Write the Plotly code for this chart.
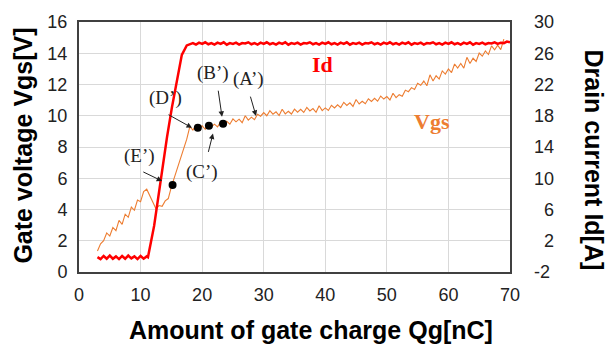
import plotly.graph_objects as go

# ---------------- data ----------------
vgs_qg = [3.0, 3.5, 4.0, 4.5, 5.0, 5.5, 6.0, 6.5, 7.0, 7.5, 8.0, 8.5, 9.0, 9.5, 10.0, 10.5,
          11.0, 11.5, 12.0, 12.5, 13.0, 13.5, 14.0, 14.5, 15.0, 15.5, 16.0, 16.5, 17.0, 17.5,
          18.0, 18.5, 19.0, 19.5, 20.0, 20.5, 21.0, 21.5, 22.0, 22.5, 23.0, 23.5, 24.0, 24.5,
          25.0, 25.5, 26.0, 26.5, 27.0, 27.5, 28.0, 28.5, 29.0, 29.5, 30.0, 30.5, 31.0, 31.5,
          32.0, 32.5, 33.0, 33.5, 34.0, 34.5, 35.0, 35.5, 36.0, 36.5, 37.0, 37.5, 38.0, 38.5,
          39.0, 39.5, 40.0, 40.5, 41.0, 41.5, 42.0, 42.5, 43.0, 43.5, 44.0, 44.5, 45.0, 45.5,
          46.0, 46.5, 47.0, 47.5, 48.0, 48.5, 49.0, 49.5, 50.0, 50.5, 51.0, 51.5, 52.0, 52.5,
          53.0, 53.5, 54.0, 54.5, 55.0, 55.5, 56.0, 56.5, 57.0, 57.5, 58.0, 58.5, 59.0, 59.5,
          60.0, 60.5, 61.0, 61.5, 62.0, 62.5, 63.0, 63.5, 64.0, 64.5, 65.0, 65.5, 66.0, 66.5,
          67.0, 67.5, 68.0, 68.5, 69.0]
vgs_v = [1.35, 1.8, 2.0, 2.5, 2.3, 2.85, 2.65, 3.3, 3.05, 3.7, 3.5, 4.15, 3.95, 4.6, 4.5, 5.15,
         5.3, 4.85, 4.5, 4.05, 4.25, 4.2, 4.55, 4.7, 5.45, 6.05, 6.7, 7.25, 7.9, 8.5,
         9.3, 9.08, 9.40, 9.19, 9.36, 9.13, 9.57, 9.28, 9.46, 9.29, 9.61, 9.44, 9.64, 9.46,
         9.80, 9.61, 9.78, 9.56, 10.0, 9.72, 9.91, 9.75, 10.10, 9.97, 10.2, 10.0, 10.32, 10.1,
         10.25, 10.01, 10.42, 10.12, 10.29, 10.11, 10.42, 10.23, 10.41, 10.21, 10.53, 10.31, 10.46, 10.22,
         10.64, 10.33, 10.5, 10.34, 10.67, 10.5, 10.7, 10.52, 10.86, 10.66, 10.83, 10.6, 11.04, 10.75,
         10.93, 10.77, 11.09, 10.92, 11.12, 10.93, 11.26, 11.07, 11.23, 11.01, 11.44, 11.16, 11.35, 11.25,
         11.64, 11.54, 11.8, 11.68, 12.08, 11.95, 12.22, 11.92, 12.62, 12.23, 12.56, 12.35, 12.87, 12.67,
         13.0, 12.76, 13.31, 13.05, 13.35, 13.05, 13.74, 13.35, 13.68, 13.48, 14.01, 13.81, 14.15, 13.92,
         14.47, 14.22, 14.52, 14.23, 14.9]

id_qg = [3.0, 3.5, 4.0, 4.5, 5.0, 5.5, 6.0, 6.5, 7.0, 7.5, 8.0, 8.5, 9.0, 9.5, 10.0, 10.5,
         11.0, 11.2, 12.2, 13.0, 13.6, 14.3, 15.1, 15.9, 16.7, 17.5,
         18.0, 18.5, 19.0, 19.5, 20.0, 20.5, 21.0, 21.5, 22.0, 22.5, 23.0, 23.5, 24.0, 24.5,
         25.0, 25.5, 26.0, 26.5, 27.0, 27.5, 28.0, 28.5, 29.0, 29.5, 30.0, 30.5, 31.0, 31.5,
         32.0, 32.5, 33.0, 33.5, 34.0, 34.5, 35.0, 35.5, 36.0, 36.5, 37.0, 37.5, 38.0, 38.5,
         39.0, 39.5, 40.0, 40.5, 41.0, 41.5, 42.0, 42.5, 43.0, 43.5, 44.0, 44.5, 45.0, 45.5,
         46.0, 46.5, 47.0, 47.5, 48.0, 48.5, 49.0, 49.5, 50.0, 50.5, 51.0, 51.5, 52.0, 52.5,
         53.0, 53.5, 54.0, 54.5, 55.0, 55.5, 56.0, 56.5, 57.0, 57.5, 58.0, 58.5, 59.0, 59.5,
         60.0, 60.5, 61.0, 61.5, 62.0, 62.5, 63.0, 63.5, 64.0, 64.5, 65.0, 65.5, 66.0, 66.5,
         67.0, 67.5, 68.0, 68.5, 69.0, 69.5, 70.0]
id_a = [-0.1, -0.35, 0.05, -0.3, 0.1, -0.3, 0.0, -0.35, 0.05, -0.3, 0.1, -0.25, 0.0, -0.35, 0.05, -0.3,
        0.0, -0.1, 3.9, 8.4, 11.5, 15.3, 19.1, 22.5, 25.8, 27.0,
        27.15, 27.3, 27.1, 27.35, 27.2, 27.4, 27.15, 27.3, 27.1, 27.35, 27.2, 27.4, 27.1, 27.3,
        27.2, 27.35, 27.1, 27.3, 27.25, 27.4, 27.15, 27.3, 27.1, 27.35, 27.2, 27.4, 27.15, 27.3,
        27.1, 27.35, 27.2, 27.4, 27.1, 27.3, 27.2, 27.35, 27.1, 27.3, 27.25, 27.4, 27.15, 27.3,
        27.1, 27.35, 27.2, 27.4, 27.15, 27.3, 27.1, 27.35, 27.2, 27.4, 27.1, 27.3, 27.2, 27.35,
        27.1, 27.3, 27.25, 27.4, 27.15, 27.3, 27.1, 27.35, 27.2, 27.4, 27.15, 27.3, 27.1, 27.35,
        27.2, 27.4, 27.1, 27.3, 27.2, 27.35, 27.1, 27.3, 27.25, 27.4, 27.15, 27.3, 27.1, 27.35,
        27.2, 27.4, 27.15, 27.3, 27.1, 27.35, 27.2, 27.4, 27.1, 27.3, 27.2, 27.35, 27.15, 27.3,
        27.25, 27.4, 27.2, 27.35, 27.3, 27.5, 27.4]

dot_qg = [15.2, 19.3, 21.1, 23.4]
dot_v = [5.57, 9.23, 9.36, 9.49]

# labelled points: text, text position, arrow tail, arrow tip (Qg, Vgs)
label_text = ["(E\u2019)", "(D\u2019)", "(C\u2019)", "(B\u2019)", "(A\u2019)"]
label_pos = [(9.9, 7.4), (14.1, 11.13), (20.0, 6.39), (21.8, 12.71), (27.6, 12.33)]
arrow_tail = [(10.2, 6.45), (14.3, 10.12), (20.95, 7.59), (22.58, 11.7), (27.77, 11.32)]
arrow_tip = [(13.5, 5.82), (18.35, 9.23), (21.76, 8.86), (23.23, 9.93), (28.75, 9.99)]

x_ticks = [0, 10, 20, 30, 40, 50, 60, 70]
y_ticks = [0, 2, 4, 6, 8, 10, 12, 14, 16]
y2_ticks = [-2, 2, 6, 10, 14, 18, 22, 26, 30]
y2_ticktext = ["-2", "\u20072", "\u20076", "10", "14", "18", "22", "26", "30"]

# ---------------- figure ----------------
SANS = "Liberation Sans, Arial, sans-serif"
SERIF = "Liberation Serif, Times New Roman, serif"
AX = "#404040"
GRID = "#d9d9d9"

fig = go.Figure()
fig.add_trace(go.Scatter(x=vgs_qg, y=vgs_v, mode="lines",
                         line=dict(color="#ED7D31", width=1.1), showlegend=False))
fig.add_trace(go.Scatter(x=id_qg, y=id_a, mode="lines", yaxis="y2",
                         line=dict(color="#FF0000", width=2.5), showlegend=False))
fig.add_trace(go.Scatter(x=dot_qg, y=dot_v, mode="markers",
                         marker=dict(color="black", size=8), showlegend=False))

ann = []
for t, (tx, ty) in zip(label_text, label_pos):
    ann.append(dict(x=tx, y=ty, xref="x", yref="y", text=t, showarrow=False,
                    xanchor="center", yanchor="middle",
                    font=dict(family=SERIF, size=19, color="#222222")))
for (ax_, ay_), (hx, hy) in zip(arrow_tail, arrow_tip):
    ann.append(dict(x=hx, y=hy, xref="x", yref="y", ax=ax_, ay=ay_, axref="x", ayref="y",
                    text="", showarrow=True, arrowhead=2, arrowsize=1.1, arrowwidth=1,
                    arrowcolor="#222222", standoff=0, startstandoff=0))
ann.append(dict(x=39.6, y=13.28, xref="x", yref="y", text="<b>Id</b>", showarrow=False,
                xanchor="center", yanchor="middle",
                font=dict(family=SERIF, size=22, color="#FF0000")))
ann.append(dict(x=57.3, y=9.61, xref="x", yref="y", text="<b>Vgs</b>", showarrow=False,
                xanchor="center", yanchor="middle",
                font=dict(family=SERIF, size=22, color="#ED7D31")))
# axis titles
ann.append(dict(x=0.538, y=-0.233, xref="paper", yref="paper", text="<b>Amount of gate charge Qg[nC]</b>",
                xanchor="center", yanchor="middle",
                showarrow=False, font=dict(family=SANS, size=25, color="black")))
ann.append(dict(x=-0.132, y=0.506, xref="paper", yref="paper", text="<b>Gate voltage Vgs[V]</b>",
                xanchor="center", yanchor="middle",
                textangle=-90, showarrow=False, font=dict(family=SANS, size=25, color="black")))
ann.append(dict(x=1.195, y=0.45, xref="paper", yref="paper", text="<b>Drain current Id[A]</b>",
                xanchor="center", yanchor="middle",
                textangle=90, showarrow=False, font=dict(family=SANS, size=25, color="black")))

fig.update_layout(
    width=609, height=349,
    margin=dict(l=79, r=99, t=19, b=77),
    paper_bgcolor="white", plot_bgcolor="white",
    font=dict(family=SANS, size=18, color="#222222"),
    annotations=ann,
    xaxis=dict(range=[0, 70], tickvals=x_ticks, showgrid=True, gridcolor=GRID, gridwidth=1,
               showline=True, linecolor=AX, linewidth=2, mirror=True, ticks="",
               ticklabelstandoff=5, zeroline=False),
    yaxis=dict(range=[0, 16], tickvals=y_ticks, showgrid=True, gridcolor=GRID, gridwidth=1,
               showline=True, linecolor=AX, linewidth=2, mirror=True, ticks="",
               ticklabelstandoff=6, zeroline=False),
    yaxis2=dict(range=[-2, 30], tickvals=y2_ticks, ticktext=y2_ticktext, overlaying="y",
                side="right", showgrid=False, showline=False, ticks="", zeroline=False,
                ticklabelstandoff=23),
)

fig.write_html("out.html", config={"displayModeBar": False},
               post_script="document.body.style.margin='0px';")
